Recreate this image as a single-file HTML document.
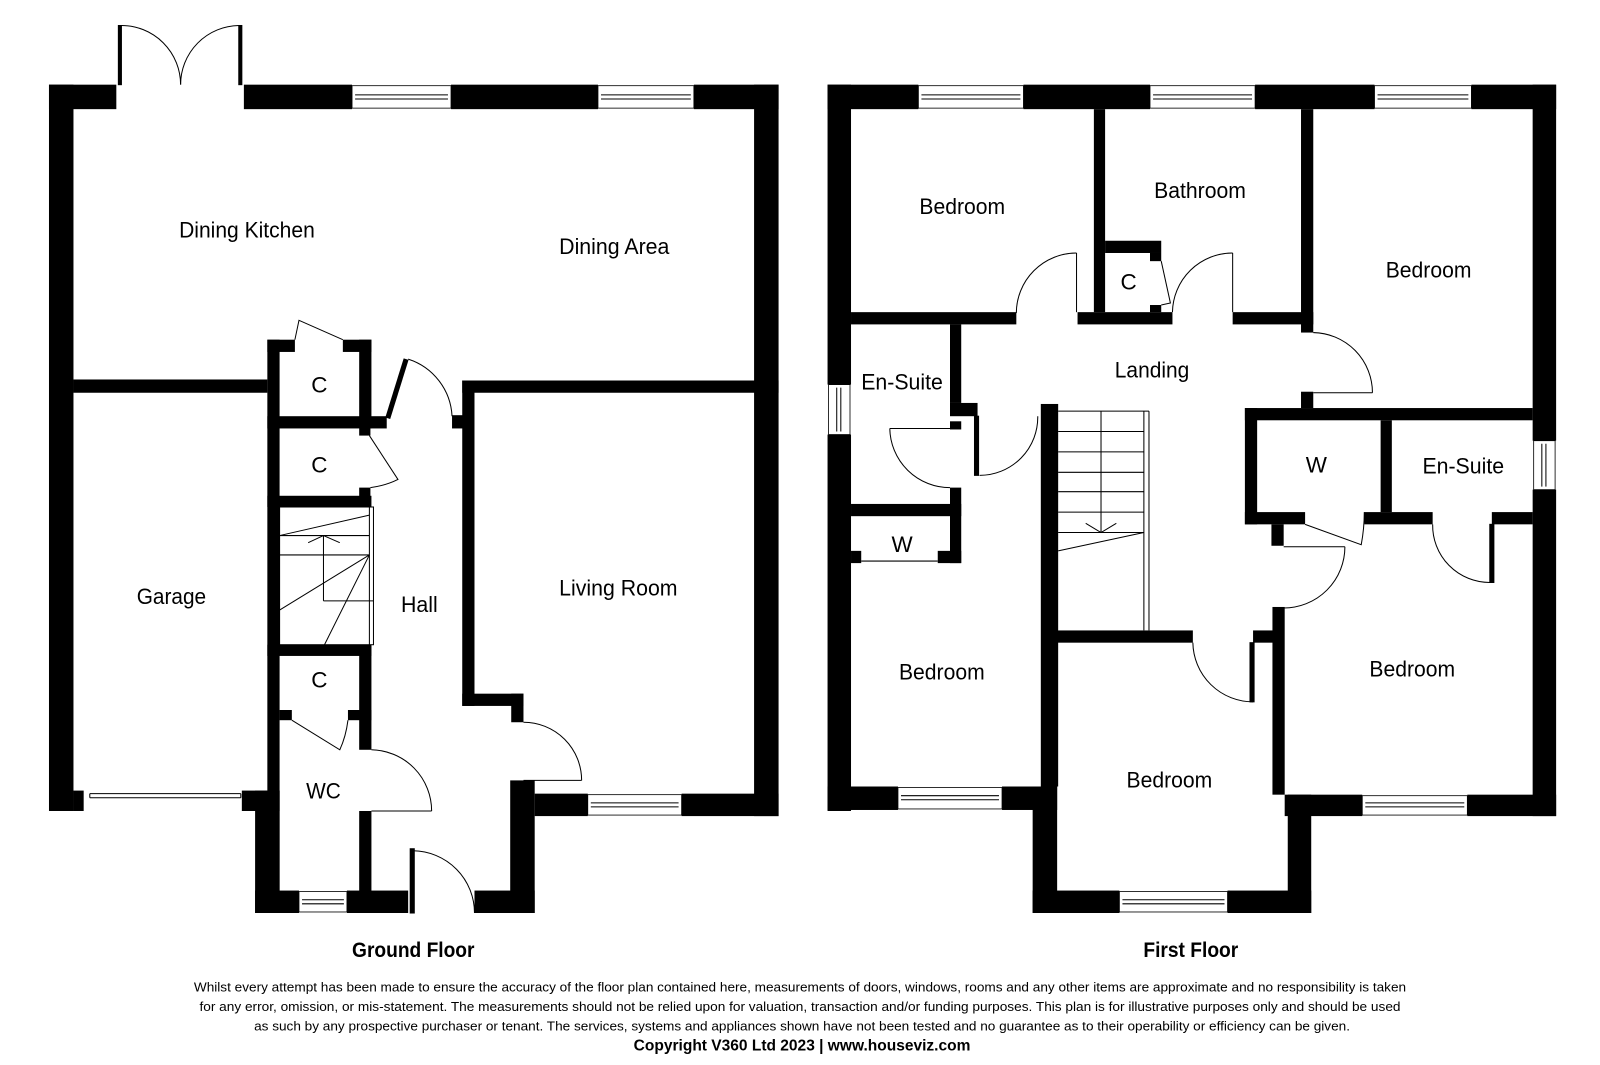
<!DOCTYPE html>
<html><head><meta charset="utf-8"><style>
html,body{margin:0;padding:0;background:#fff;}
svg{display:block;}
text{font-family:"Liberation Sans Narrow","Liberation Sans",sans-serif;fill:#000;}
.l{font-size:22px;}
.w{fill:#000;}
.t{stroke:#000;stroke-width:1;fill:none;}
.win{fill:#fff;stroke:#000;stroke-width:0.8;}
</style></head><body>
<svg width="1600" height="1065" viewBox="0 0 1568 1044" preserveAspectRatio="none" xmlns="http://www.w3.org/2000/svg">
<rect width="1568" height="1044" fill="#fff"/>
<!-- GROUND FLOOR walls -->
<g class="w">
<rect x="48" y="83" width="66" height="24"/>
<rect x="239" y="83" width="106" height="24"/>
<rect x="442" y="83" width="144" height="24"/>
<rect x="680" y="83" width="83" height="24"/>
<rect x="48" y="83" width="24" height="712"/>
<rect x="72" y="775" width="10" height="20"/>
<rect x="237" y="775" width="37" height="20"/>
<rect x="739" y="83" width="24" height="717"/>
<rect x="72" y="372" width="190" height="13"/>
<rect x="262" y="333" width="12" height="562"/>
<rect x="250" y="775" width="24" height="120"/>
<rect x="262" y="333" width="27" height="12"/>
<rect x="336" y="333" width="28" height="12"/>
<rect x="352" y="333" width="12" height="87"/>
<rect x="262" y="408" width="117" height="12"/>
<rect x="352" y="420" width="11" height="7"/>
<rect x="352" y="478" width="11" height="19"/>
<rect x="262" y="486" width="102" height="11"/>
<rect x="262" y="632" width="102" height="11"/>
<rect x="352" y="632" width="12" height="103"/>
<rect x="274" y="696" width="12" height="10"/>
<rect x="341" y="696" width="23" height="10"/>
<rect x="352" y="795" width="12" height="100"/>
<rect x="443" y="407" width="12" height="13"/>
<rect x="453" y="373" width="12" height="319"/>
<rect x="453" y="373" width="310" height="12"/>
<rect x="453" y="680" width="60" height="12"/>
<rect x="501" y="680" width="12" height="28"/>
<rect x="500" y="765" width="24" height="130"/>
<rect x="524" y="778" width="52" height="22"/>
<rect x="668" y="778" width="95" height="22"/>
<rect x="250" y="873" width="43" height="22"/>
<rect x="340" y="873" width="60" height="22"/>
<rect x="465" y="873" width="59" height="22"/>
</g>
<!-- GF windows -->
<g>
<rect class="win" x="345" y="84" width="97" height="22"/><line class="t" x1="348" y1="93" x2="439" y2="93"/><line class="t" x1="348" y1="97" x2="439" y2="97"/>
<rect class="win" x="586" y="84" width="94" height="22"/><line class="t" x1="589" y1="93" x2="677" y2="93"/><line class="t" x1="589" y1="97" x2="677" y2="97"/>
<rect class="win" x="576" y="779" width="92" height="20"/><line class="t" x1="579" y1="787" x2="665" y2="787"/><line class="t" x1="579" y1="791" x2="665" y2="791"/>
<rect class="win" x="293" y="874" width="47" height="20"/><line class="t" x1="296" y1="882" x2="337" y2="882"/><line class="t" x1="296" y1="886" x2="337" y2="886"/>
</g>
<!-- GF doors -->
<g class="t">
<rect x="116" y="25" width="3" height="58" fill="#000"/>
<rect x="234" y="25" width="3" height="58" fill="#000"/>
<path d="M119 25 A58 58 0 0 1 177 83"/>
<path d="M234 25 A58 58 0 0 0 177 83"/>
<line x1="88" y1="778" x2="236" y2="778"/><line x1="88" y1="782" x2="236" y2="782"/>
<line x1="88" y1="778" x2="88" y2="782"/><line x1="236" y1="778" x2="236" y2="782"/>
<line x1="380" y1="410" x2="398" y2="352" stroke-width="5"/>
<path d="M400 352 A62 62 0 0 1 443 408"/>
<path d="M289 333 L293 314 L336 333"/>
<path d="M362 427 L390 470 Q378 476 363 478"/>
<path d="M286 706 L333 735 Q339 722 341 706"/>
<line x1="364" y1="795" x2="423" y2="795"/>
<path d="M364 735 A60 60 0 0 1 423 795"/>
<line x1="513" y1="765" x2="570" y2="765"/>
<path d="M513 708 A57 57 0 0 1 570 765"/>
<rect x="402" y="832" width="4" height="63" fill="#000"/>
<path d="M405 834 A61 61 0 0 1 465 895"/>
<!-- stairs GF -->
<rect x="274" y="497" width="92" height="135"/>
<line x1="274" y1="525" x2="362" y2="525"/>
<line x1="274" y1="544" x2="362" y2="544"/>
<line x1="362" y1="497" x2="362" y2="632"/>
<line x1="274" y1="525" x2="362" y2="505"/>
<line x1="274" y1="598" x2="362" y2="544"/>
<line x1="318" y1="632" x2="362" y2="544"/>
<line x1="317" y1="589" x2="317" y2="525"/>
<line x1="317" y1="589" x2="366" y2="589"/>
<path d="M302 532 L317 525 L333 532"/>
</g>
<!-- FIRST FLOOR walls -->
<g class="w">
<rect x="811" y="83" width="23" height="294"/>
<rect x="811" y="426" width="23" height="369"/>
<rect x="811" y="83" width="89" height="24"/>
<rect x="1003" y="83" width="124" height="24"/>
<rect x="1230" y="83" width="117" height="24"/>
<rect x="1442" y="83" width="83" height="24"/>
<rect x="1502" y="83" width="23" height="349"/>
<rect x="1502" y="480" width="23" height="320"/>
<rect x="834" y="306" width="162" height="12"/>
<rect x="1056" y="306" width="93" height="12"/>
<rect x="1072" y="107" width="11" height="199"/>
<rect x="1083" y="236" width="55" height="12"/>
<rect x="1127" y="248" width="11" height="8"/>
<rect x="1127" y="299" width="11" height="7"/>
<rect x="1208" y="306" width="79" height="12"/>
<rect x="1275" y="107" width="12" height="219"/>
<rect x="1275" y="384" width="12" height="16"/>
<rect x="1220" y="400" width="282" height="12"/>
<rect x="1220" y="400" width="12" height="114"/>
<rect x="1353" y="412" width="11" height="90"/>
<rect x="1220" y="502" width="59" height="12"/>
<rect x="1337" y="502" width="67" height="12"/>
<rect x="1462" y="502" width="40" height="12"/>
<rect x="1246" y="514" width="12" height="21"/>
<rect x="1247" y="595" width="12" height="184"/>
<rect x="1259" y="779" width="76" height="21"/>
<rect x="1438" y="779" width="87" height="21"/>
<rect x="1262" y="779" width="23" height="116"/>
<rect x="1024" y="618" width="145" height="12"/>
<rect x="1228" y="618" width="20" height="12"/>
<rect x="1020" y="396" width="17" height="375"/>
<rect x="1012" y="771" width="24" height="124"/>
<rect x="1012" y="873" width="85" height="22"/>
<rect x="1203" y="873" width="82" height="22"/>
<rect x="811" y="771" width="69" height="23"/>
<rect x="982" y="771" width="54" height="23"/>
<rect x="931" y="318" width="11" height="77"/>
<rect x="931" y="395" width="27" height="13"/>
<rect x="931" y="413" width="11" height="8"/>
<rect x="931" y="478" width="11" height="74"/>
<rect x="834" y="494" width="108" height="12"/>
<rect x="834" y="540" width="10" height="12"/>
<rect x="919" y="540" width="23" height="12"/>
</g>
<!-- FF windows -->
<g>
<rect class="win" x="900" y="84" width="103" height="22"/><line class="t" x1="903" y1="93" x2="1000" y2="93"/><line class="t" x1="903" y1="97" x2="1000" y2="97"/>
<rect class="win" x="1127" y="84" width="103" height="22"/><line class="t" x1="1130" y1="93" x2="1227" y2="93"/><line class="t" x1="1130" y1="97" x2="1227" y2="97"/>
<rect class="win" x="1347" y="84" width="95" height="22"/><line class="t" x1="1350" y1="93" x2="1439" y2="93"/><line class="t" x1="1350" y1="97" x2="1439" y2="97"/>
<rect class="win" x="880" y="772" width="102" height="21"/><line class="t" x1="883" y1="780" x2="979" y2="780"/><line class="t" x1="883" y1="784" x2="979" y2="784"/>
<rect class="win" x="1097" y="874" width="106" height="20"/><line class="t" x1="1100" y1="882" x2="1200" y2="882"/><line class="t" x1="1100" y1="886" x2="1200" y2="886"/>
<rect class="win" x="1335" y="780" width="103" height="19"/><line class="t" x1="1338" y1="787" x2="1435" y2="787"/><line class="t" x1="1338" y1="791" x2="1435" y2="791"/>
<rect class="win" x="812" y="377" width="21" height="49"/><line class="t" x1="820" y1="380" x2="820" y2="423"/><line class="t" x1="824" y1="380" x2="824" y2="423"/>
<rect class="win" x="1503" y="432" width="21" height="48"/><line class="t" x1="1511" y1="435" x2="1511" y2="477"/><line class="t" x1="1515" y1="435" x2="1515" y2="477"/>
</g>
<!-- FF doors -->
<g class="t">
<line x1="1055" y1="248" x2="1055" y2="306"/>
<path d="M996 307 A59 59 0 0 1 1055 248"/>
<line x1="1208" y1="248" x2="1208" y2="306"/>
<path d="M1149 306 A59 59 0 0 1 1208 248"/>
<path d="M1138 256 L1147 297 L1138 299"/>
<line x1="1287" y1="385" x2="1345" y2="385"/>
<path d="M1287 326 A59 59 0 0 1 1345 385"/>
<path d="M1279 514 L1334 534 Q1337 518 1337 502"/>
<rect x="1460" y="514" width="4" height="57" fill="#000"/>
<path d="M1404 514 A56 56 0 0 0 1460 571"/>
<line x1="1258" y1="536" x2="1318" y2="536"/>
<path d="M1318 536 A60 60 0 0 1 1258 596"/>
<rect x="1225" y="630" width="4" height="58" fill="#000"/>
<path d="M1169 630 A59 59 0 0 0 1228 688"/>
<rect x="955" y="408" width="4" height="58" fill="#000"/>
<path d="M960 466 A57 57 0 0 0 1017 408"/>
<line x1="872" y1="420" x2="931" y2="420"/>
<path d="M872 420 A59 59 0 0 0 931 478"/>
<line x1="844" y1="550" x2="919" y2="550"/>
<!-- stairs FF -->
<line x1="1037" y1="403" x2="1126" y2="403"/>
<line x1="1121" y1="403" x2="1121" y2="618"/>
<line x1="1126" y1="403" x2="1126" y2="618"/>
<line x1="1037" y1="423" x2="1121" y2="423"/>
<line x1="1037" y1="443" x2="1121" y2="443"/>
<line x1="1037" y1="463" x2="1121" y2="463"/>
<line x1="1037" y1="482" x2="1121" y2="482"/>
<line x1="1037" y1="502" x2="1121" y2="502"/>
<line x1="1037" y1="522" x2="1121" y2="522"/>
<line x1="1037" y1="540" x2="1121" y2="522"/>
<line x1="1079" y1="403" x2="1079" y2="522"/>
<path d="M1064 513 L1079 522 L1094 513"/>
</g>
<!-- labels -->
<g class="l" text-anchor="middle">
<text x="242" y="233" textLength="133" lengthAdjust="spacingAndGlyphs">Dining Kitchen</text>
<text x="602" y="249" textLength="108" lengthAdjust="spacingAndGlyphs">Dining Area</text>
<text x="313" y="385">C</text>
<text x="313" y="463">C</text>
<text x="411" y="600" textLength="36" lengthAdjust="spacingAndGlyphs">Hall</text>
<text x="168" y="592" textLength="68" lengthAdjust="spacingAndGlyphs">Garage</text>
<text x="606" y="584" textLength="116" lengthAdjust="spacingAndGlyphs">Living Room</text>
<text x="313" y="674">C</text>
<text x="317" y="783" textLength="34" lengthAdjust="spacingAndGlyphs">WC</text>
<text x="943" y="210" textLength="84" lengthAdjust="spacingAndGlyphs">Bedroom</text>
<text x="1176" y="194" textLength="90" lengthAdjust="spacingAndGlyphs">Bathroom</text>
<text x="1106" y="284">C</text>
<text x="1400" y="272" textLength="84" lengthAdjust="spacingAndGlyphs">Bedroom</text>
<text x="1129" y="370" textLength="73" lengthAdjust="spacingAndGlyphs">Landing</text>
<text x="884" y="382" textLength="80" lengthAdjust="spacingAndGlyphs">En-Suite</text>
<text x="1290" y="463">W</text>
<text x="1434" y="464" textLength="80" lengthAdjust="spacingAndGlyphs">En-Suite</text>
<text x="884" y="541">W</text>
<text x="923" y="666" textLength="84" lengthAdjust="spacingAndGlyphs">Bedroom</text>
<text x="1384" y="663" textLength="84" lengthAdjust="spacingAndGlyphs">Bedroom</text>
<text x="1146" y="772" textLength="84" lengthAdjust="spacingAndGlyphs">Bedroom</text>
</g>
<g text-anchor="middle" font-weight="bold">
<text x="405" y="938" font-size="21" font-weight="bold" textLength="120" lengthAdjust="spacingAndGlyphs">Ground Floor</text>
<text x="1167" y="938" font-size="21" font-weight="bold" textLength="93" lengthAdjust="spacingAndGlyphs">First Floor</text>
</g>
<g text-anchor="middle" font-size="13">
<text x="784" y="972" textLength="1188" lengthAdjust="spacingAndGlyphs">Whilst every attempt has been made to ensure the accuracy of the floor plan contained here, measurements of doors, windows, rooms and any other items are approximate and no responsibility is taken</text>
<text x="784" y="991" textLength="1177" lengthAdjust="spacingAndGlyphs">for any error, omission, or mis-statement. The measurements should not be relied upon for valuation, transaction and/or funding purposes. This plan is for illustrative purposes only and should be used</text>
<text x="786" y="1010" textLength="1074" lengthAdjust="spacingAndGlyphs">as such by any prospective purchaser or tenant. The services, systems and appliances shown have not been tested and no guarantee as to their operability or efficiency can be given.</text>
<text x="786" y="1030" font-size="15" font-weight="bold" textLength="330" lengthAdjust="spacingAndGlyphs">Copyright V360 Ltd 2023 | www.houseviz.com</text>
</g>
</svg>
</body></html>
